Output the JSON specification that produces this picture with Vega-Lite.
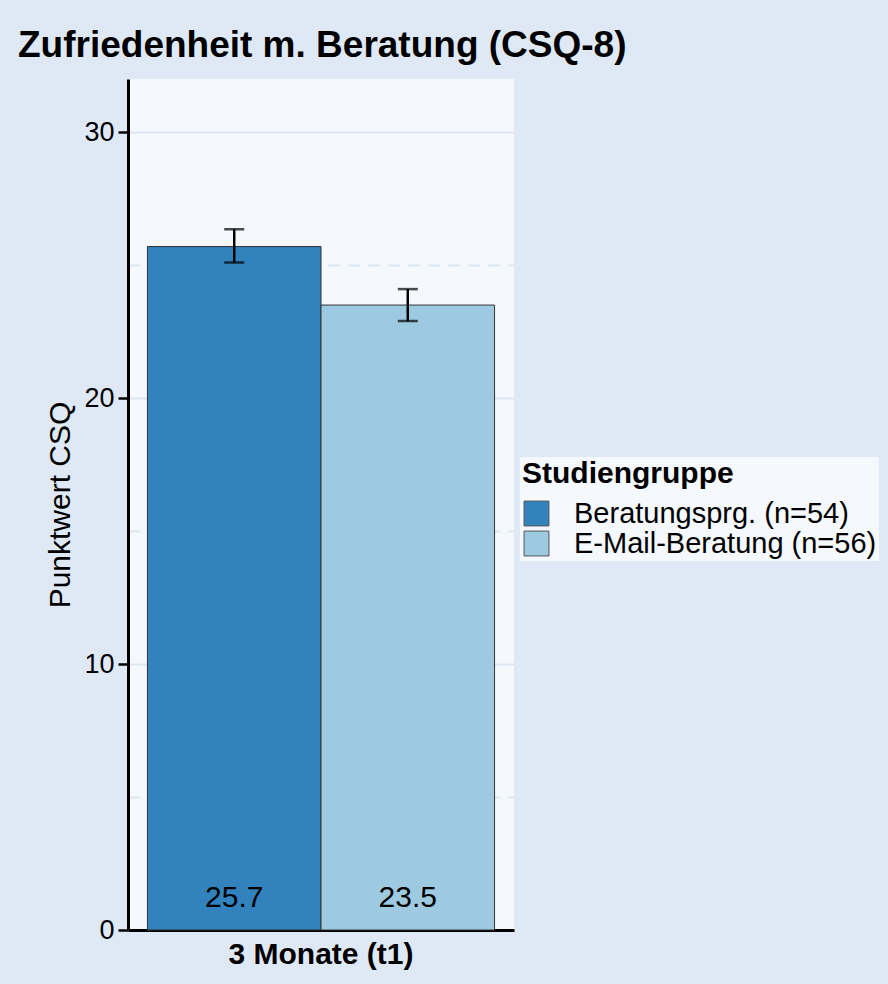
{
  "$schema": "https://vega.github.io/schema/vega-lite/v6.json",
  "width": 386,
  "height": 851,
  "autosize": "none",
  "padding": {"left": 128, "top": 79, "right": 374, "bottom": 54},
  "background": "#dee9f5",
  "config": {
    "font": "Liberation Sans",
    "view": {"fill": "#f5f8fd", "stroke": null}
  },
  "title": {
    "text": "Zufriedenheit m. Beratung (CSQ-8)",
    "anchor": "start",
    "frame": "group",
    "dx": -110,
    "offset": -15,
    "baseline": "alphabetic",
    "fontSize": 37,
    "fontWeight": "bold",
    "color": "#000000"
  },
  "data": {
    "values": [
      {"zeit": "3 Monate (t1)", "gruppe": "Beratungsprg. (n=54)", "mittel": 25.7, "lo": 25.1, "hi": 26.35, "label": "25.7"},
      {"zeit": "3 Monate (t1)", "gruppe": "E-Mail-Beratung (n=56)", "mittel": 23.5, "lo": 22.9, "hi": 24.1, "label": "23.5"}
    ]
  },
  "encoding": {
    "x": {
      "field": "zeit",
      "type": "nominal",
      "scale": {"paddingInner": 0, "paddingOuter": 0.056},
      "axis": {
        "title": null,
        "labelAngle": 0,
        "labelFontSize": 30,
        "labelFontWeight": "bold",
        "labelColor": "#000000",
        "labelPadding": 9,
        "labelLimit": 500,
        "ticks": false,
        "domainColor": "#000000",
        "domainWidth": 3
      }
    },
    "xOffset": {
      "field": "gruppe",
      "type": "nominal",
      "scale": {"paddingInner": 0, "paddingOuter": 0}
    }
  },
  "layer": [
    {
      "mark": {"type": "bar", "stroke": "#333333", "strokeWidth": 1},
      "encoding": {
        "y": {
          "field": "mittel",
          "type": "quantitative",
          "scale": {"domain": [0, 32], "nice": false, "zero": true},
          "axis": {
            "title": "Punktwert CSQ",
            "titleFontSize": 30,
            "titleFontWeight": "normal",
            "titleColor": "#000000",
            "titlePadding": 8,
            "values": [0, 5, 10, 15, 20, 25, 30],
            "labelExpr": "datum.value % 10 === 0 ? datum.label : ''",
            "labelFontSize": 27,
            "labelColor": "#000000",
            "labelPadding": 4,
            "tickSize": 10,
            "tickWidth": 2.5,
            "tickColor": "#000000",
            "tickOpacity": {"condition": {"test": "datum.value % 10 !== 0", "value": 0}, "value": 1},
            "domainColor": "#000000",
            "domainWidth": 3,
            "grid": true,
            "gridColor": "#dbe6f2",
            "gridWidth": 2,
            "gridDash": {"condition": {"test": "datum.value % 10 !== 0", "value": [12, 8]}, "value": []}
          }
        },
        "color": {
          "field": "gruppe",
          "type": "nominal",
          "scale": {"range": ["#3182bd", "#9ecae1"]},
          "legend": {
            "title": "Studiengruppe",
            "orient": "none",
            "legendX": 392,
            "legendY": 378,
            "fillColor": "#f5f8fd",
            "padding": 2,
            "titleFontSize": 30,
            "titleFontWeight": "bold",
            "titleColor": "#000000",
            "titleLimit": 500,
            "titlePadding": 10,
            "labelFontSize": 29,
            "labelColor": "#000000",
            "labelOffset": 23,
            "labelLimit": 500,
            "symbolType": "square",
            "symbolSize": 620,
            "symbolStrokeColor": "#555555",
            "symbolStrokeWidth": 1,
            "symbolOpacity": 1,
            "rowPadding": 0
          }
        }
      }
    },
    {
      "mark": {"type": "rule", "color": "#000000", "strokeWidth": 2.5},
      "encoding": {
        "y": {"field": "lo", "type": "quantitative"},
        "y2": {"field": "hi"}
      }
    },
    {
      "mark": {"type": "tick", "color": "#000000", "size": 20, "thickness": 2.5},
      "encoding": {"y": {"field": "lo", "type": "quantitative"}}
    },
    {
      "mark": {"type": "tick", "color": "#000000", "size": 20, "thickness": 2.5},
      "encoding": {"y": {"field": "hi", "type": "quantitative"}}
    },
    {
      "mark": {"type": "text", "fontSize": 30, "color": "#000000", "baseline": "middle", "dy": -32},
      "encoding": {
        "y": {"datum": 0, "type": "quantitative"},
        "text": {"field": "label"}
      }
    }
  ]
}
